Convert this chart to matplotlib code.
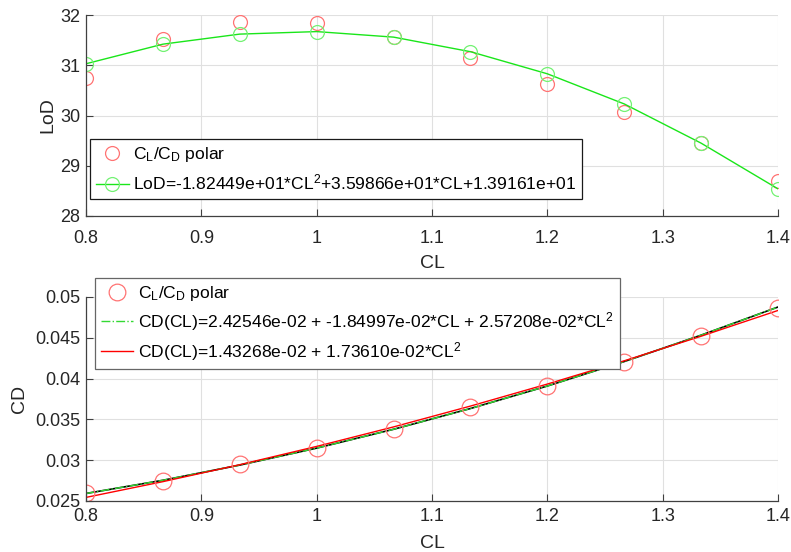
import matplotlib
matplotlib.use('Agg')
import matplotlib.pyplot as plt
import numpy as np

plt.rcParams['font.family'] = ['Liberation Sans', 'DejaVu Sans']
plt.rcParams['mathtext.default'] = 'regular'

# lift coefficient stations
cl = [0.8, 0.8667, 0.9333, 1.0, 1.0667, 1.1333, 1.2, 1.2667, 1.3333, 1.4]

# top panel: L/D polar and its quadratic fit
lod_polar = [30.75, 31.52, 31.87, 31.85, 31.57, 31.14, 30.63, 30.06, 29.45, 28.70]
lod_fit = [31.03, 31.42, 31.62, 31.67, 31.56, 31.27, 30.83, 30.23, 29.45, 28.54]

# bottom panel: CD polar and the two fits
cd_polar = [0.02595, 0.02748, 0.02948, 0.03150, 0.03377, 0.03649, 0.03915, 0.04203, 0.04518, 0.04870]
cd_fit_full = [0.02592, 0.02754, 0.02940, 0.03148, 0.03379, 0.03633, 0.03909, 0.04209, 0.04532, 0.04877]
cd_fit_par = [0.02544, 0.02737, 0.02945, 0.03169, 0.03408, 0.03663, 0.03933, 0.04218, 0.04519, 0.04835]

lbl_polar = '$C_L/C_D$ polar'
lbl_lod = 'LoD=-1.82449e+01*CL$^2$+3.59866e+01*CL+1.39161e+01'
lbl_full = 'CD(CL)=2.42546e-02 + -1.84997e-02*CL + 2.57208e-02*CL$^2$'
lbl_par = 'CD(CL)=1.43268e-02 + 1.73610e-02*CL$^2$'

pale_red = (1.0, 0.45, 0.45)
pale_green = (0.45, 0.95, 0.45)


def style_axes(ax, xpad):
	ax.grid(True, color='0.88', linewidth=0.8)
	ax.set_axisbelow(True)
	for s in ('top', 'right'):
		ax.spines[s].set_visible(False)
	for s in ('left', 'bottom'):
		ax.spines[s].set_color('0.25')
		ax.spines[s].set_linewidth(0.9)
	ax.tick_params(direction='in', length=5, width=0.8, color='0.25',
		labelsize=13, labelcolor='0.15', pad=4)
	ax.tick_params(axis='x', pad=xpad)
	ax.set_xlim(0.8, 1.4)
	ax.set_xticks([0.8, 0.9, 1.0, 1.1, 1.2, 1.3, 1.4])
	ax.set_xticklabels(['0.8', '0.9', '1', '1.1', '1.2', '1.3', '1.4'])


fig = plt.figure(figsize=(7.91, 5.52), dpi=100)

leg_kw = dict(borderaxespad=0, fancybox=False, fontsize=12.6, handlelength=1.85,
	handletextpad=0.25, borderpad=0.35, framealpha=1)

# top: LoD
ax1 = fig.add_axes([0.1087, 0.6087, 0.8749, 0.3641])
ax1.plot(cl, lod_polar, 'o', ms=10, mfc='none', mec=pale_red, mew=0.9, label=lbl_polar)
ax1.plot(cl, lod_fit, '-o', color=(0.1, 0.9, 0.1), lw=1.0, ms=10, mfc='none',
	mec=pale_green, mew=0.9, label=lbl_lod)
style_axes(ax1, 10)
ax1.set_ylim(28, 32)
ax1.set_yticks([28, 29, 30, 31, 32])
ax1.set_xlabel('CL', fontsize=14, color='0.15', labelpad=6)
ax1.set_ylabel('LoD', fontsize=14, color='0.15', labelpad=3)
leg1 = ax1.legend(loc='lower left', bbox_to_anchor=(0.006, 0.085), edgecolor='0.1',
	labelspacing=0.5, **leg_kw)
leg1.get_frame().set_linewidth(0.9)

# bottom: CD
ax2 = fig.add_axes([0.1087, 0.0924, 0.8749, 0.3696])
ax2.plot(cl, cd_fit_full, '-', color='black', lw=1.2)
ax2.plot(cl, cd_fit_full, '-.', color=(0.2, 0.85, 0.2), lw=1.0, label=lbl_full)
ax2.plot(cl, cd_fit_par, '-', color='red', lw=1.0, label=lbl_par)
ax2.plot(cl, cd_polar, 'o', ms=12, mfc='none', mec=pale_red, mew=0.9, label=lbl_polar)
style_axes(ax2, 5)
ax2.set_ylim(0.025, 0.05)
ax2.set_yticks([0.025, 0.03, 0.035, 0.04, 0.045, 0.05])
ax2.set_yticklabels(['0.025', '0.03', '0.035', '0.04', '0.045', '0.05'])
ax2.set_xlabel('CL', fontsize=14, color='0.15', labelpad=7)
ax2.set_ylabel('CD', fontsize=14, color='0.15', labelpad=5)
h, l = ax2.get_legend_handles_labels()
order = [2, 0, 1]
leg2 = ax2.legend([h[i] for i in order], [l[i] for i in order], loc='upper left',
	bbox_to_anchor=(0.013, 1.093), edgecolor='0.4', labelspacing=0.4, **leg_kw)
leg2.get_frame().set_linewidth(0.9)
leg2.set_zorder(5)

fig.savefig('out.png', dpi=100)
